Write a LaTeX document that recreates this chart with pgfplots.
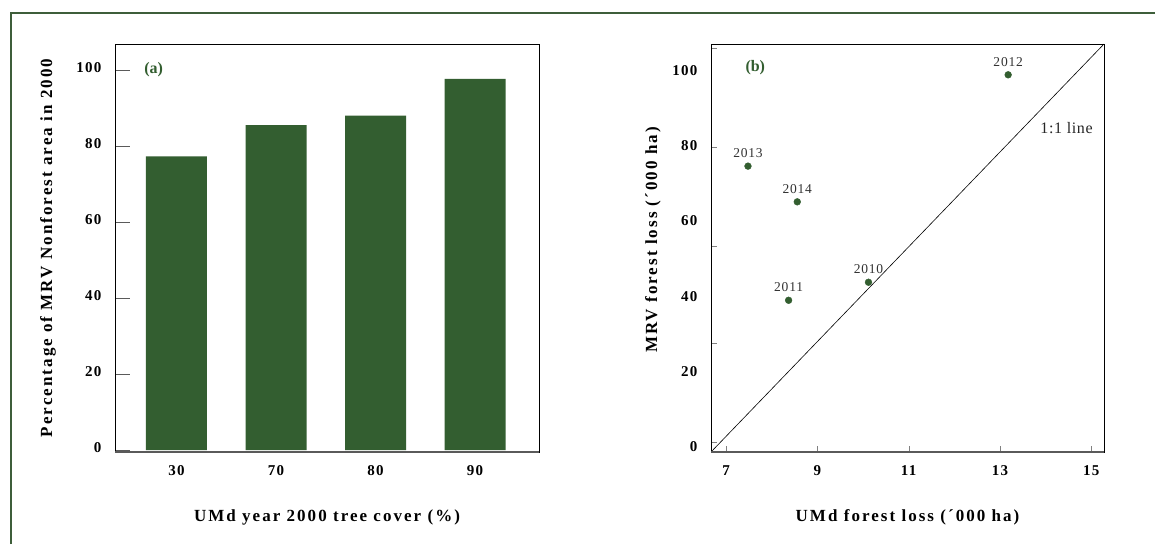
\documentclass[border=0pt]{standalone}
\usepackage{fontspec}
\setmainfont{Liberation Serif}
\usepackage{pgfplots}
\pgfplotsset{compat=1.18}
\definecolor{barg}{RGB}{51,94,48}
\definecolor{frameg}{RGB}{62,94,58}
\definecolor{axgray}{RGB}{90,90,90}
\newcommand{\lsp}{\addfontfeature{LetterSpace=12}}
\begin{document}
\begin{tikzpicture}
\useasboundingbox (0,0) rectangle (1155pt,544pt);
\fill[white] (0,0) rectangle (1155pt,544pt);
\draw[frameg, line width=2pt] (10.7pt,0) -- (10.7pt,530.5pt) -- (1155pt,530.5pt);

\pgfplotsset{
  every axis/.append style={
    scale only axis,
    /pgf/number format/assume math mode=true,
    tick label style={font=\fontsize{15}{17}\selectfont\bfseries\addfontfeature{LetterSpace=9}},
    label style={font=\fontsize{17}{19}\selectfont\bfseries\lsp},
    tick align=inside,
    axis line style={black, line width=0.8pt},
    yticklabel style={yshift=3pt, xshift=-10pt},
    xticklabel style={yshift=-10pt},
  },
}

% (a) bar chart
\begin{axis}[
  at={(115pt,92pt)}, anchor=south west,
  width=424pt, height=408pt,
  xmin=-0.618, xmax=3.643,
  ymin=-0.5, ymax=107,
  xtick={0,1,2,3}, xticklabels={30,70,80,90},
  major x tick style={draw=none},
  ytick={0,20,40,60,80,100},
  ytick pos=left, xtick pos=bottom,
  major tick length=15pt,
  y tick style={axgray, line width=1pt},
  xlabel={UMd year 2000 tree cover (\%)},
  ylabel={Percentage of MRV Nonforest area in 2000},
  xlabel style={at={(rel axis cs:0.5,0)}, anchor=center, yshift=-65pt},
  ylabel style={at={(rel axis cs:0,0.5)}, anchor=center, yshift=67pt},
]
\addplot[ybar, bar width=61pt, fill=barg, draw=none]
  coordinates {(0,77.4) (1,85.6) (2,88.1) (3,97.8)};
\draw[axgray, line width=1.5pt] (rel axis cs:0,0) -- (rel axis cs:1,0);
\node[font=\fontsize{16}{18}\selectfont\bfseries, text=barg] at (axis cs:-0.23,100.2) {(a)};
\end{axis}

% (b) scatter
\begin{axis}[
  at={(711pt,92pt)}, anchor=south west,
  width=393pt, height=408pt,
  xmin=6.67, xmax=15.28,
  ymin=-0.67, ymax=107.9,
  xtick={7,9,11,13,15},
  % tick marks (no labels) sit apart from the labelled values
  ytick={1.9,28.3,54.2,80.4,106.9},
  yticklabels={},
  extra y ticks={0,20,40,60,80,100},
  extra y tick style={major tick length=0pt},
  major tick length=6pt,
  ytick pos=left, xtick pos=bottom,
  xlabel={UMd forest loss (´000 ha)},
  ylabel={MRV forest loss (´000 ha)},
  xlabel style={at={(rel axis cs:0.5,0)}, anchor=center, yshift=-65pt},
  ylabel style={at={(rel axis cs:0,0.5)}, anchor=center, yshift=58pt, xshift=8pt},
]
\addplot[black, line width=0.6pt] coordinates {(6.67,-0.67) (15.28,107.9)};
\addplot[only marks, mark=*, mark size=3.4pt, barg,
  point meta=explicit symbolic,
  nodes near coords,
  every node near coord/.append style={font=\fontsize{13.5}{15}\selectfont\addfontfeature{LetterSpace=6}, text=black!80, anchor=south, yshift=5pt}]
  coordinates {
    (13.18,99.7) [2012]
    (7.48,75.4) [2013]
    (8.56,65.9) [2014]
    (10.12,44.5) [2010]
    (8.37,39.7) [2011]
  };
\draw[axgray, line width=1.5pt] (rel axis cs:0,0) -- (rel axis cs:1,0);
\node[font=\fontsize{16}{18}\selectfont\addfontfeature{LetterSpace=4}, text=black!85] at (axis cs:14.46,85.6) {1:1 line};
\node[font=\fontsize{16}{18}\selectfont\bfseries, text=barg] at (axis cs:7.64,101.5) {(b)};
\end{axis}
\end{tikzpicture}
\end{document}
